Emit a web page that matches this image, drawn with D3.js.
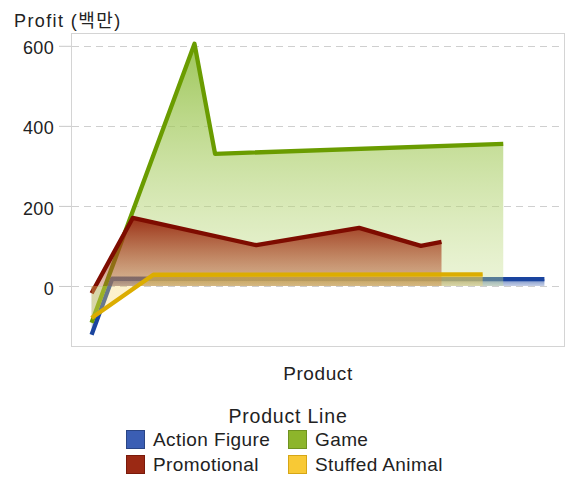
<!DOCTYPE html>
<html>
<head>
<meta charset="utf-8">
<script src="https://cdn.jsdelivr.net/npm/d3@7"></script>
<style>
  body { margin: 0; background: #fff; }
  text { font-family: "Liberation Sans", Arial, "Noto Sans CJK KR", sans-serif; fill: #222; }
</style>
</head>
<body>
<div id="chart"></div>
<script>
// Product categories along the x axis (names are not shown on the axis).
var products = [0, 1, 2, 3, 4, 5, 6, 7, 8, 9, 10, 11, 12, 13, 14, 15, 16, 17, 18, 19, 20, 21, 22];

// Profit (millions) per product line, given as [product, value] at each vertex.
var actionFigure = [[0, -122], [1, 18], [22, 17]];
var game = [[0, -92], [5, 605], [6, 330], [20, 355]];
var promotional = [[0, -18], [2, 170], [8, 102], [13, 145], [16, 100], [17, 110]];
var stuffedAnimal = [[0, -80], [3, 28], [19, 29]];

var yTicks = [0, 200, 400, 600];
var lineNames = ['Action Figure', 'Game', 'Promotional', 'Stuffed Animal'];

var WIDTH = 566, HEIGHT = 478;
var plot = {left: 71, top: 33, right: 565, bottom: 346};

var svg = d3.select('#chart').append('svg')
    .attr('width', WIDTH)
    .attr('height', HEIGHT);

var x = d3.scalePoint()
    .domain(products)
    .range([plot.left, plot.right])
    .padding(1);

var y = d3.scaleLinear()
    .domain([-150, 632])
    .range([plot.bottom, plot.top]);

// draw order: blue under everything, yellow on top
var series = [
  {name: 'Action Figure', values: actionFigure, line: '#1a449e',
   top: '#3a5fb0', bottom: '#7088c0', topOp: 0.8, botOp: 0.4,
   swatch: '#3b5eb4', border: '#2a4585'},
  {name: 'Game', values: game, line: '#6a9c00',
   top: '#8cbc3c', bottom: '#c8e090', topOp: 0.85, botOp: 0.35,
   swatch: '#8db52b', border: '#6f9220'},
  {name: 'Promotional', values: promotional, line: '#7e0c00',
   top: '#96220a', bottom: '#b85a30', topOp: 0.92, botOp: 0.38,
   swatch: '#9b2914', border: '#7a1a0a'},
  {name: 'Stuffed Animal', values: stuffedAnimal, line: '#dcad00',
   top: '#f2c22a', bottom: '#f8d870', topOp: 0.6, botOp: 0.35,
   swatch: '#f8c935', border: '#d6a616'}
];

var defs = svg.append('defs');
series.forEach(function(s, i) {
  var maxV = d3.max(s.values, function(d) { return d[1]; });
  var grad = defs.append('linearGradient')
      .attr('id', 'grad' + i)
      .attr('gradientUnits', 'userSpaceOnUse')
      .attr('x1', 0).attr('x2', 0)
      .attr('y1', y(Math.max(maxV, 0)))
      .attr('y2', y(0));
  grad.append('stop').attr('offset', 0)
      .attr('stop-color', s.top).attr('stop-opacity', s.topOp);
  grad.append('stop').attr('offset', 1)
      .attr('stop-color', s.bottom).attr('stop-opacity', s.botOp);
});

// frame
svg.append('rect')
    .attr('x', plot.left + 0.5)
    .attr('y', plot.top + 0.5)
    .attr('width', plot.right - plot.left - 1)
    .attr('height', plot.bottom - plot.top)
    .attr('fill', 'none')
    .attr('stroke', '#d4d4d4');

// grid lines
svg.append('g').selectAll('line')
    .data(yTicks)
    .join('line')
    .attr('x1', plot.left + 1)
    .attr('x2', plot.right - 1)
    .attr('y1', function(d) { return Math.round(y(d)) + 0.5; })
    .attr('y2', function(d) { return Math.round(y(d)) + 0.5; })
    .attr('stroke', '#cfcfcf')
    .attr('stroke-width', 1.2)
    .attr('stroke-dasharray', '7,5');

// y axis
var yAxis = svg.append('g')
    .attr('transform', 'translate(' + plot.left + ',0)')
    .call(d3.axisLeft(y).tickValues(yTicks).tickSize(12).tickPadding(5));
yAxis.select('.domain').remove();
yAxis.selectAll('.tick line').attr('stroke', '#c8c8c8');
yAxis.selectAll('.tick text')
    .attr('font-size', 18)
    .attr('dy', '0.45em')
    .style('font-family', '"Liberation Sans", Arial, sans-serif')
    .style('letter-spacing', '0.3px')
    .attr('fill', '#222');

var area = d3.area()
    .x(function(d) { return x(products[d[0]]); })
    .y0(y(0))
    .y1(function(d) { return y(d[1]); });

var line = d3.line()
    .x(function(d) { return x(products[d[0]]); })
    .y(function(d) { return y(d[1]); });

var marks = svg.append('g');
series.forEach(function(s, i) {
  marks.append('path')
      .attr('d', area(s.values))
      .attr('fill', 'url(#grad' + i + ')');
  marks.append('path')
      .attr('d', line(s.values))
      .attr('fill', 'none')
      .attr('stroke', s.line)
      .attr('stroke-width', 4.3)
      .attr('stroke-linejoin', 'round');
});

// axis titles
svg.append('text')
    .attr('x', 14)
    .attr('y', 27)
    .attr('font-size', 18)
    .style('letter-spacing', '1.4px')
    .text('Profit (백만)');

svg.append('text')
    .attr('x', (plot.left + plot.right) / 2)
    .attr('y', 380)
    .attr('text-anchor', 'middle')
    .attr('font-size', 19)
    .style('letter-spacing', '0.6px')
    .text('Product');

// legend
var legend = svg.append('g');
legend.append('text')
    .attr('x', 288)
    .attr('y', 423)
    .attr('text-anchor', 'middle')
    .attr('font-size', 19.5)
    .style('letter-spacing', '0.8px')
    .text('Product Line');

var legendOrder = ['Action Figure', 'Game', 'Promotional', 'Stuffed Animal'];
var colX = [126, 288], rowY = [430, 455];
var items = legend.selectAll('g.item')
    .data(legendOrder.map(function(n) {
      return series.find(function(s) { return s.name == n; });
    }))
    .join('g')
    .attr('class', 'item')
    .attr('transform', function(d, i) {
      return 'translate(' + colX[i % 2] + ',' + rowY[Math.floor(i / 2)] + ')';
    });
items.append('rect')
    .attr('x', 0.5).attr('y', 0.5)
    .attr('width', 18).attr('height', 18)
    .attr('fill', function(d) { return d.swatch; })
    .attr('stroke', function(d) { return d.border; });
items.append('text')
    .attr('x', 27)
    .attr('y', 16)
    .attr('font-size', 19)
    .style('letter-spacing', '0.4px')
    .text(function(d) { return d.name; });
</script>
</body>
</html>
